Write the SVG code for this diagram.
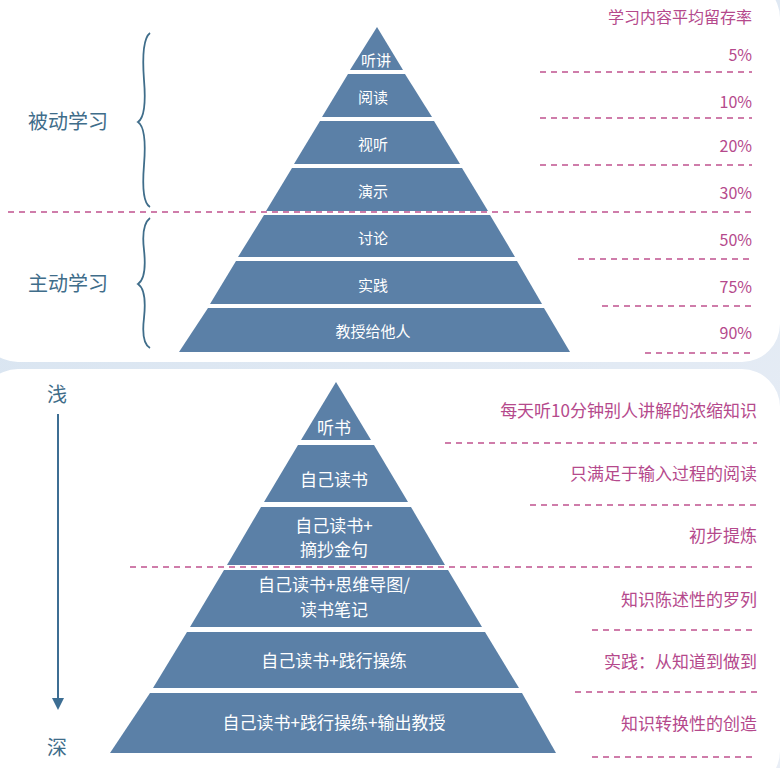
<svg xmlns="http://www.w3.org/2000/svg" width="780" height="768" viewBox="0 0 780 768">
<defs>
<linearGradient id="bg" x1="0" y1="0" x2="1" y2="1"><stop offset="0" stop-color="#d6e3f0"/><stop offset="1" stop-color="#e9eef6"/></linearGradient>
<marker id="ah" markerWidth="12" markerHeight="12" refX="10" refY="6" orient="auto" markerUnits="userSpaceOnUse"><path d="M0,0 L12,6 L0,12 Z" fill="#3d6e93"/></marker>
</defs>
<style>
.band{fill:#5b80a7}
.bt{font-family:"Noto Sans CJK SC","Noto Sans",sans-serif;font-size:15px;fill:#fff;text-anchor:middle}
.bt2{font-family:"Noto Sans CJK SC","Noto Sans",sans-serif;font-size:17px;fill:#fff;text-anchor:middle}
.rt{font-family:"Noto Sans CJK SC","Noto Sans",sans-serif;font-size:16px;fill:#b5498c;text-anchor:end}
.rt2{font-family:"Noto Sans CJK SC","Noto Sans",sans-serif;font-size:17px;fill:#b5498c;text-anchor:end}
.lt{font-family:"Noto Sans CJK SC","Noto Sans",sans-serif;font-size:20px;fill:#3f6d8a}
.dash{stroke:#c0518f;stroke-width:1.5;stroke-dasharray:6,5;fill:none}
.brace{stroke:#3f6d8a;stroke-width:1.8;fill:none}
</style>
<rect width="780" height="768" fill="url(#bg)"/>
<rect x="-20" y="-20" width="800" height="382" rx="38" fill="#fff"/>
<rect x="-20" y="369" width="800" height="420" rx="38" fill="#fff"/>

<g id="top-header"><text class="rt" x="752" y="23" font-size="15">学习内容平均留存率</text></g>
<g id="passive"><text class="lt" x="28" y="129">被动学习</text><path class="brace" d="M150,33 Q141,40 144,80 Q147,116 138,122 Q147,128 144,165 Q141,202 150,207"/></g>
<g id="active"><text class="lt" x="28" y="291">主动学习</text><path class="brace" d="M150,218 Q141,225 144,250 Q147,278 138,284 Q147,290 144,318 Q141,343 150,348"/></g>

<g id="t1"><polygon class="band" points="377,27 403,70 350,70"/><text class="bt" x="376" y="66">听讲</text><text class="rt" x="752" y="61">5%</text></g>
<g id="t2"><polygon class="band" points="348,74 405,74 432,117 322,117"/><text class="bt" x="373" y="103">阅读</text><text class="rt" x="752" y="108">10%</text></g>
<g id="t3"><polygon class="band" points="320,121 434,121 460,164 294,164"/><text class="bt" x="373" y="150">视听</text><text class="rt" x="752" y="152">20%</text></g>
<g id="t4"><polygon class="band" points="292,168 462,168 488,211 266,211"/><text class="bt" x="373" y="197">演示</text><text class="rt" x="752" y="199">30%</text></g>
<g id="t5"><polygon class="band" points="264,215 490,215 515,257 238,257"/><text class="bt" x="373" y="244">讨论</text><text class="rt" x="752" y="246">50%</text></g>
<g id="t6"><polygon class="band" points="236,261 517,261 542,304 210,304"/><text class="bt" x="373" y="291">实践</text><text class="rt" x="752" y="293">75%</text></g>
<g id="t7"><polygon class="band" points="208,308 544,308 570,352 179,352"/><text class="bt" x="373" y="337">教授给他人</text><text class="rt" x="752" y="339">90%</text></g>

<g id="bl"><text class="lt" x="47" y="402">浅</text><text class="lt" x="47" y="755">深</text></g>

<g id="b1"><polygon class="band" points="336,382 371,440 301,440"/><text class="bt2" x="334" y="434">听书</text><text class="rt2" x="757" y="417">每天听10分钟别人讲解的浓缩知识</text></g>
<g id="b2"><polygon class="band" points="298,445 374,445 408,502 264,502"/><text class="bt2" x="334" y="486">自己读书</text><text class="rt2" x="757" y="480">只满足于输入过程的阅读</text></g>
<g id="b3"><polygon class="band" points="261,507 411,507 445,565 227,565"/><text class="bt2" x="334" y="532">自己读书+</text><text class="bt2" x="334" y="556">摘抄金句</text><text class="rt2" x="757" y="542">初步提炼</text></g>
<g id="b4"><polygon class="band" points="224,570 448,570 482,627 190,627"/><text class="bt2" x="334" y="591">自己读书+思维导图/</text><text class="bt2" x="334" y="616">读书笔记</text><text class="rt2" x="757" y="606">知识陈述性的罗列</text></g>
<g id="b5"><polygon class="band" points="187,632 485,632 519,688 153,688"/><text class="bt2" x="334" y="667">自己读书+践行操练</text><text class="rt2" x="757" y="668">实践：从知道到做到</text></g>
<g id="b6"><polygon class="band" points="150,693 522,693 556,753 110,753"/><text class="bt2" x="334" y="729">自己读书+践行操练+输出教授</text><text class="rt2" x="757" y="730">知识转换性的创造</text></g>

<g id="connectors">
<line x1="58" y1="414" x2="58" y2="708" stroke="#3d6e93" stroke-width="2" marker-end="url(#ah)"/>
<line class="dash" x1="8" y1="212" x2="755" y2="212"/>
<line class="dash" x1="540" y1="72" x2="752" y2="72"/>
<line class="dash" x1="540" y1="118" x2="752" y2="118"/>
<line class="dash" x1="540" y1="165" x2="752" y2="165"/>
<line class="dash" x1="578" y1="259" x2="752" y2="259"/>
<line class="dash" x1="602" y1="306" x2="752" y2="306"/>
<line class="dash" x1="645" y1="353" x2="752" y2="353"/>
<line class="dash" x1="445" y1="443" x2="757" y2="443"/>
<line class="dash" x1="530" y1="505" x2="757" y2="505"/>
<line class="dash" x1="130" y1="567" x2="757" y2="567"/>
<line class="dash" x1="592" y1="630" x2="757" y2="630"/>
<line class="dash" x1="575" y1="692" x2="757" y2="692"/>
<line class="dash" x1="592" y1="757" x2="757" y2="757"/>
</g>
</svg>
